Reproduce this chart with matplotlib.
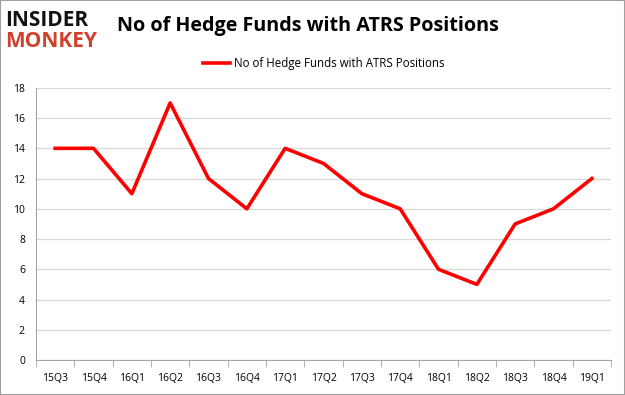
import matplotlib
matplotlib.use("Agg")
import matplotlib.pyplot as plt
from matplotlib.patches import Rectangle

quarters = ["15Q3", "15Q4", "16Q1", "16Q2", "16Q3", "16Q4", "17Q1", "17Q2",
            "17Q3", "17Q4", "18Q1", "18Q2", "18Q3", "18Q4", "19Q1"]
funds = [14, 14, 11, 17, 12, 10, 14, 13, 11, 10, 6, 5, 9, 10, 12]
yticks = list(range(0, 19, 2))

plt.rcParams["font.family"] = ["Open Sans", "DejaVu Sans"]

fig = plt.figure(figsize=(6.25, 3.95), dpi=100)
ax = fig.add_axes([0.0576, 0.0886, 0.92, 0.689])

x = list(range(len(quarters)))
ax.plot(x, funds, color="#ff0000", linewidth=2.6, solid_joinstyle="round",
        label="No of Hedge Funds with ATRS Positions")

ax.set_xlim(-0.5, len(quarters) - 0.5)
ax.set_ylim(0, 18)
ax.set_yticks(yticks)
ax.set_xticks(x)
ax.set_xticklabels(quarters)
ax.set_xticks([i - 0.5 for i in range(len(quarters) + 1)], minor=True)
ax.tick_params(axis="x", which="major", length=0, pad=9, labelsize=7.5)
ax.tick_params(axis="x", which="minor", length=5, color="#a6a6a6")
ax.tick_params(axis="y", length=0, pad=8, labelsize=7.5)
ax.grid(axis="y", color="#d9d9d9", linewidth=0.9)
ax.set_axisbelow(True)
for s in ["top", "right"]:
    ax.spines[s].set_visible(False)
for s in ["left", "bottom"]:
    ax.spines[s].set_color("#a6a6a6")

fig.text(0.187, 0.935, "No of Hedge Funds with ATRS Positions",
         fontsize=14.2, fontweight="bold", va="center", ha="left")
fig.text(0.008, 0.948, "INSIDER", fontsize=15, fontweight="bold",
         color="#111111", va="center", ha="left")
fig.text(0.008, 0.895, "MONKEY", fontsize=15, fontweight="bold",
         color="#d0402a", va="center", ha="left")

ax.legend(loc="upper center", bbox_to_anchor=(0.5, 1.15), frameon=False,
          fontsize=8.3, handlelength=2.4, handletextpad=0.3)

fig.patches.append(Rectangle((0, 0), 1, 1, transform=fig.transFigure,
                             fill=False, edgecolor="#a0a0a0", linewidth=1.5))

fig.savefig("out.png", dpi=100)
